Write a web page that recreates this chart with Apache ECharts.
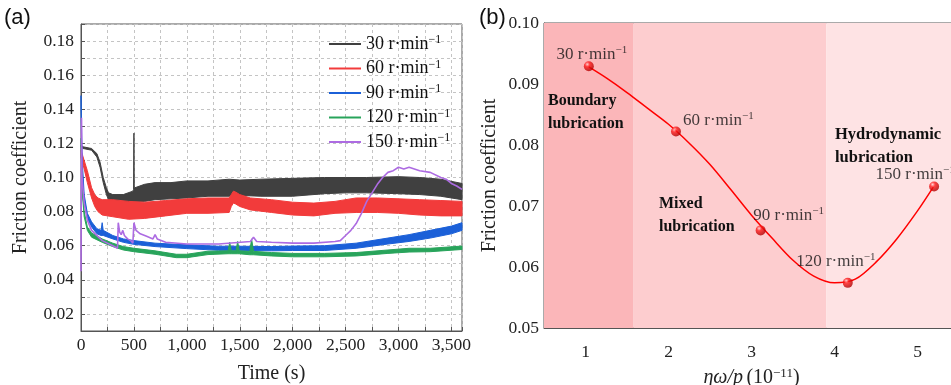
<!DOCTYPE html>
<html>
<head>
<meta charset="utf-8">
<script src="https://cdn.jsdelivr.net/npm/echarts@6/dist/echarts.min.js"></script>
<style>
  html, body { margin: 0; padding: 0; background: #fff; }
  #chart { width: 951px; height: 385px; }
</style>
</head>
<body>
<div id="chart"></div>
<script>
// ---- (a) friction vs time : bands (lower / upper edge) ----
const t30 = [0, 20, 100, 150, 180, 210, 240, 260, 300, 400, 490, 497, 500, 503, 510, 600, 700, 850, 1000, 1200, 1400, 1500, 1700, 2000, 2300, 2500, 2700, 3000, 3200, 3400, 3600];
const lo30 = [0.118, 0.117, 0.116, 0.112, 0.106, 0.097, 0.090, 0.087, 0.086, 0.085, 0.085, 0.085, 0.085, 0.085, 0.086, 0.086, 0.087, 0.0875, 0.088, 0.089, 0.089, 0.0895, 0.089, 0.089, 0.0905, 0.091, 0.091, 0.0905, 0.090, 0.089, 0.087];
const hi30 = [0.119, 0.118, 0.117, 0.114, 0.109, 0.100, 0.094, 0.091, 0.090, 0.090, 0.092, 0.093, 0.126, 0.093, 0.094, 0.096, 0.097, 0.097, 0.098, 0.098, 0.099, 0.0985, 0.099, 0.0995, 0.100, 0.100, 0.100, 0.1005, 0.100, 0.099, 0.0965];

const t60 = [0, 30, 60, 100, 130, 160, 200, 300, 450, 600, 800, 1000, 1200, 1400, 1420, 1440, 1460, 1500, 1600, 1800, 2000, 2200, 2400, 2600, 2800, 3000, 3200, 3400, 3600];
const lo60 = [0.112, 0.105, 0.097, 0.088, 0.083, 0.080, 0.078, 0.077, 0.0755, 0.076, 0.0775, 0.079, 0.079, 0.0795, 0.083, 0.085, 0.0845, 0.083, 0.081, 0.0795, 0.078, 0.0775, 0.079, 0.0795, 0.0795, 0.079, 0.078, 0.0775, 0.0775];
const hi60 = [0.116, 0.110, 0.104, 0.094, 0.090, 0.088, 0.087, 0.087, 0.086, 0.0855, 0.0865, 0.0875, 0.088, 0.088, 0.090, 0.092, 0.0915, 0.090, 0.088, 0.087, 0.0855, 0.085, 0.086, 0.088, 0.088, 0.0875, 0.087, 0.0865, 0.086];

const t90 = [0, 10, 30, 60, 100, 150, 190, 200, 210, 300, 400, 500, 700, 1000, 1300, 1500, 1800, 2000, 2300, 2600, 2900, 3100, 3300, 3500, 3600];
const lo90 = [0.140, 0.105, 0.086, 0.076, 0.071, 0.067, 0.066, 0.066, 0.066, 0.064, 0.062, 0.0608, 0.0595, 0.0583, 0.0573, 0.0573, 0.057, 0.0572, 0.0572, 0.0585, 0.061, 0.0625, 0.0645, 0.067, 0.069];
const hi90 = [0.148, 0.112, 0.090, 0.079, 0.074, 0.070, 0.069, 0.0735, 0.069, 0.066, 0.064, 0.063, 0.0615, 0.0605, 0.0597, 0.0597, 0.0595, 0.0598, 0.060, 0.0615, 0.0645, 0.0665, 0.069, 0.0715, 0.0735];

const t120 = [0, 10, 30, 60, 100, 200, 300, 400, 500, 700, 900, 1000, 1200, 1390, 1405, 1420, 1465, 1480, 1495, 1595, 1612, 1630, 1800, 2000, 2300, 2600, 2900, 3100, 3300, 3600];
const lo120 = [0.118, 0.093, 0.077, 0.069, 0.065, 0.062, 0.0595, 0.0575, 0.0565, 0.055, 0.053, 0.053, 0.0548, 0.0553, 0.0553, 0.0553, 0.0553, 0.0553, 0.0553, 0.0547, 0.0547, 0.0547, 0.054, 0.0535, 0.0535, 0.054, 0.0555, 0.0563, 0.0565, 0.0578];
const hi120 = [0.123, 0.097, 0.080, 0.071, 0.0675, 0.064, 0.0615, 0.0595, 0.0585, 0.057, 0.055, 0.055, 0.0568, 0.057, 0.062, 0.057, 0.057, 0.0625, 0.057, 0.0567, 0.064, 0.0567, 0.056, 0.0555, 0.0555, 0.056, 0.0575, 0.0585, 0.0585, 0.0598];

const t150 = [0, 5, 10, 30, 60, 100, 200, 300, 345, 352, 365, 380, 395, 410, 440, 470, 490, 500, 520, 560, 620, 680, 700, 720, 800, 1000, 1300, 1600, 1630, 1660, 1800, 2000, 2200, 2400, 2450, 2500, 2550, 2600, 2650, 2700, 2750, 2800, 2850, 2900, 2950, 3000, 3050, 3100, 3200, 3300, 3400, 3450, 3500, 3550, 3600];
const v150 = [0.045, 0.135, 0.100, 0.085, 0.075, 0.069, 0.063, 0.060, 0.0585, 0.0735, 0.068, 0.0665, 0.069, 0.066, 0.064, 0.063, 0.0615, 0.0735, 0.069, 0.067, 0.0655, 0.064, 0.0665, 0.064, 0.062, 0.061, 0.061, 0.0625, 0.065, 0.0625, 0.062, 0.0615, 0.0615, 0.0625, 0.063, 0.066, 0.069, 0.073, 0.079, 0.086, 0.091, 0.096, 0.100, 0.103, 0.104, 0.106, 0.105, 0.106, 0.104, 0.103, 0.100, 0.099, 0.0965, 0.095, 0.093];

const speeds = ['30', '60', '90', '120', '150'];

// ---- (b) friction vs eta*omega/p ----
const ptX = [1.04, 2.09, 3.11, 4.16, 5.20];
const ptY = [0.0929, 0.0822, 0.0660, 0.0574, 0.0732];
const fitX = [1.04, 1.25, 1.5, 1.75, 2.0, 2.25, 2.5, 2.75, 3.0, 3.25, 3.5, 3.75, 4.0, 4.25, 4.5, 4.75, 5.0, 5.19];
const fitY = [0.0928, 0.0910, 0.0886, 0.0860, 0.0834, 0.0803, 0.0768, 0.0727, 0.0685, 0.0647, 0.0611, 0.0585, 0.0574, 0.0580, 0.0608, 0.0646, 0.0692, 0.0731];
const regionEdges = [0.5, 1.58, 3.9, 5.5];

const SERIF = '"Liberation Serif", "DejaVu Serif", serif';
const SANS = '"Liberation Sans", Arial, sans-serif';
const colors = ['#404040', '#f23b3b', '#1b60d8', '#28a45b', '#ad6be2'];
const regionColors = ['#fbb6b9', '#fdcdcf', '#fee3e4'];

const chart = echarts.init(document.getElementById('chart'));

// filled band between the lower and upper edge of a noisy trace
function bandSeries(name, t, lo, hi, color) {
  return {
    name: name + '-band',
    type: 'custom',
    xAxisIndex: 0, yAxisIndex: 0,
    itemStyle: { color: color },
    encode: { x: 0, y: [1, 2] },
    data: t.map((x, i) => [x, lo[i], hi[i]]),
    renderItem: function (params, api) {
      if (params.dataIndex !== 0) return null;
      const pts = [];
      for (let i = 0; i < t.length; i++) pts.push(api.coord([t[i], hi[i]]));
      for (let i = t.length - 1; i >= 0; i--) pts.push(api.coord([t[i], lo[i]]));
      return {
        type: 'polygon',
        shape: { points: pts },
        style: { fill: color, stroke: color, lineWidth: 1 }
      };
    }
  };
}

// empty line series that only give the legend its line keys
function legendKey(name, color) {
  return {
    name: name, type: 'line', xAxisIndex: 0, yAxisIndex: 0, data: [],
    symbol: 'none', itemStyle: { color: color }, lineStyle: { color: color, width: 1.6 }
  };
}

const legendRich = {
  a: { fontFamily: SERIF, fontSize: 18, color: '#111', lineHeight: 20 },
  s: { fontFamily: SERIF, fontSize: 12, color: '#111', verticalAlign: 'top', lineHeight: 20 }
};
const supRich = {
  a: { fontFamily: SERIF, fontSize: 17, color: '#111', lineHeight: 20 },
  s: { fontFamily: SERIF, fontSize: 11, color: '#111', verticalAlign: 'top', lineHeight: 20 }
};

const axisCommon = {
  axisLine: { show: true, lineStyle: { color: '#555', width: 1 } },
  axisTick: { show: true, inside: true, length: 4, lineStyle: { color: '#555' } }
};

const labelCfg = [
  { position: 'top', offset: [3, 9], distance: 6 },
  { position: 'right', offset: [-2, -11], distance: 4 },
  { position: 'top', offset: [28, 4], distance: 4 },
  { position: 'top', offset: [-12, 4], distance: 10 },
  { position: 'top', offset: [-19, 9], distance: 6 }
];

const ballColor = new echarts.graphic.RadialGradient(0.35, 0.3, 0.7, [
  { offset: 0, color: '#ffd0d0' },
  { offset: 0.35, color: '#ff1a1a' },
  { offset: 1, color: '#b00000' }
]);

const nameStyle = { fontFamily: SERIF, fontSize: 20, color: '#222' };

const option = {
  animation: false,
  backgroundColor: '#fff',
  grid: [
    { left: 81, top: 24, width: 381, height: 307, show: true, borderColor: '#555', borderWidth: 1, outerBoundsMode: 'none', containLabel: false },
    { left: 544, top: 23, width: 415, height: 305, show: true, borderColor: '#555', borderWidth: 1, outerBoundsMode: 'none', containLabel: false }
  ],
  legend: {
    left: 323, top: 29, orient: 'vertical',
    itemWidth: 32, itemHeight: 2, itemGap: 5.5,
    itemStyle: { opacity: 0 },
    data: speeds,
    formatter: n => `{a|${n} r·min}{s|−1}`,
    textStyle: { rich: legendRich }
  },
  xAxis: [
    Object.assign({
      type: 'value', gridIndex: 0, min: 0, max: 3600, interval: 250,
      axisLabel: {
        interval: 0, margin: 5, color: '#222', fontFamily: SERIF, fontSize: 17.5,
        formatter: v => (v % 500 === 0 ? v.toLocaleString('en-US') : '')
      },
      splitLine: { show: true, lineStyle: { color: '#c4c4c4', type: [3, 3] } },
      name: 'Time (s)', nameLocation: 'middle', nameGap: 33,
      nameTextStyle: nameStyle
    }, axisCommon),
    Object.assign({
      type: 'value', gridIndex: 1, min: 0.5, max: 5.5, interval: 0.5,
      axisLabel: {
        interval: 0, margin: 15, color: '#222', fontFamily: SERIF, fontSize: 17.5,
        formatter: v => (Math.abs(v - Math.round(v)) < 1e-6 ? String(Math.round(v)) : '')
      },
      splitLine: { show: false },
      name: '{i|ηω/p} {n|(10}{s|−11}{n|)}', nameLocation: 'middle', nameGap: 39,
      nameTextStyle: {
        rich: {
          i: { fontFamily: SERIF, fontStyle: 'italic', fontSize: 20, color: '#222', lineHeight: 22 },
          n: { fontFamily: SERIF, fontSize: 20, color: '#222', lineHeight: 22 },
          s: { fontFamily: SERIF, fontSize: 13, color: '#222', verticalAlign: 'top', lineHeight: 22 }
        }
      }
    }, axisCommon)
  ],
  yAxis: [
    Object.assign({
      type: 'value', gridIndex: 0, min: 0.01, max: 0.19, interval: 0.01,
      axisLabel: {
        interval: 0, margin: 7, color: '#222', fontFamily: SERIF, fontSize: 17.5,
        formatter: v => {
          const k = Math.round(v * 100);
          return (Math.abs(v * 100 - k) < 1e-6 && k % 2 === 0) ? v.toFixed(2) : '';
        }
      },
      splitLine: { show: true, lineStyle: { color: '#c4c4c4', type: [3, 3] } },
      name: 'Friction coefficient', nameLocation: 'middle', nameGap: 50,
      nameTextStyle: nameStyle
    }, axisCommon),
    Object.assign({
      type: 'value', gridIndex: 1, min: 0.05, max: 0.10, interval: 0.005,
      axisLabel: {
        interval: 0, margin: 5, color: '#222', fontFamily: SERIF, fontSize: 17.5,
        formatter: v => (Math.round(v * 1000) % 10 === 0 ? v.toFixed(2) : '')
      },
      splitLine: { show: false },
      name: 'Friction coefficient', nameLocation: 'middle', nameGap: 44,
      nameTextStyle: nameStyle
    }, axisCommon)
  ],
  series: [
    legendKey('30', colors[0]),
    legendKey('60', colors[1]),
    legendKey('90', colors[2]),
    legendKey('120', colors[3]),
    bandSeries('30', t30, lo30, hi30, colors[0]),
    bandSeries('60', t60, lo60, hi60, colors[1]),
    bandSeries('90', t90, lo90, hi90, colors[2]),
    bandSeries('120', t120, lo120, hi120, colors[3]),
    {
      name: '150', type: 'line', xAxisIndex: 0, yAxisIndex: 0,
      data: t150.map((x, i) => [x, v150[i]]),
      symbol: 'none', itemStyle: { color: colors[4] },
      lineStyle: { color: colors[4], width: 1.6 }
    },
    {
      name: 'regions', type: 'line', xAxisIndex: 1, yAxisIndex: 1, data: [],
      markArea: {
        silent: true,
        data: regionColors.map((c, i) => [
          { xAxis: regionEdges[i], itemStyle: { color: c } },
          { xAxis: regionEdges[i + 1] }
        ])
      }
    },
    {
      name: 'fit', type: 'line', xAxisIndex: 1, yAxisIndex: 1, smooth: 0.3,
      data: fitX.map((x, i) => [x, fitY[i]]),
      symbol: 'none', lineStyle: { color: '#ff0000', width: 1.5 }
    },
    {
      name: 'points', type: 'scatter', xAxisIndex: 1, yAxisIndex: 1,
      symbolSize: 10, z: 5,
      itemStyle: { color: ballColor },
      data: ptX.map((x, i) => ({
        value: [x, ptY[i]],
        label: Object.assign({
          show: true,
          formatter: `{a|${speeds[i]} r·min}{s|−1}`,
          rich: supRich
        }, labelCfg[i])
      }))
    }
  ],
  graphic: [
    { type: 'text', left: 4, top: 7, z: 100, style: { text: '(a)', font: '22px ' + SANS, fill: '#111' } },
    { type: 'text', left: 479, top: 7, z: 100, style: { text: '(b)', font: '22px ' + SANS, fill: '#111' } },
    { type: 'text', left: 548, top: 89, z: 100, style: { text: 'Boundary\nlubrication', font: 'bold 16px ' + SERIF, lineHeight: 23, fill: '#111' } },
    { type: 'text', left: 659, top: 192, z: 100, style: { text: 'Mixed\nlubrication', font: 'bold 16px ' + SERIF, lineHeight: 23, fill: '#111' } },
    { type: 'text', left: 835, top: 123, z: 100, style: { text: 'Hydrodynamic\nlubrication', font: 'bold 16.5px ' + SERIF, lineHeight: 23, fill: '#111' } }
  ]
};

chart.setOption(option);
</script>
</body>
</html>
